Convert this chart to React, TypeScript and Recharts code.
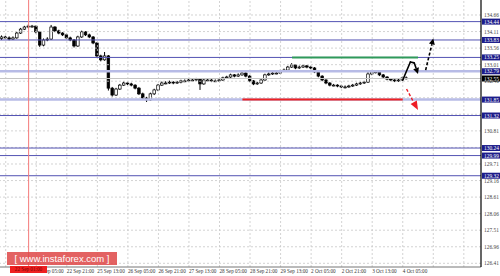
import React from 'react';
import { ComposedChart, Bar, XAxis, YAxis, ReferenceLine } from 'recharts';

// 2-hour candles, price data
const opens = [
  133.88, 133.93, 133.90, 133.86, 133.90, 134.06, 134.19, 134.26, 134.29, 134.29,
  134.10, 133.66, 133.83, 133.86, 134.26, 134.13, 134.06, 134.00, 133.90, 133.83,
  133.63, 133.93, 134.10, 134.00, 133.93, 133.73, 133.30, 133.17, 133.30, 132.23,
  132.00, 132.20, 132.33, 132.40, 132.37, 132.33, 132.23, 132.04, 131.90, 131.84,
  132.04, 132.17, 132.33, 132.40, 132.40, 132.43, 132.40, 132.43, 132.47, 132.47,
  132.50, 132.50, 132.53, 132.37, 132.50, 132.50, 132.47, 132.47, 132.50, 132.57,
  132.60, 132.67, 132.63, 132.67, 132.73, 132.63, 132.47, 132.37, 132.40, 132.50,
  132.67, 132.70, 132.73, 132.73, 132.80, 132.83, 132.93, 133.00, 132.90, 132.93,
  132.97, 132.93, 132.90, 132.77, 132.63, 132.50, 132.40, 132.33, 132.33, 132.30,
  132.27, 132.27, 132.30, 132.33, 132.37, 132.40, 132.43, 132.70, 132.77, 132.77,
  132.67, 132.60, 132.53, 132.50, 132.47, 132.50, 132.57,
];
const highs = [
  133.98, 133.97, 133.95, 133.95, 134.10, 134.23, 134.30, 134.34, 134.33, 134.31,
  134.13, 133.88, 133.92, 134.33, 134.29, 134.17, 134.09, 134.04, 133.94, 133.86,
  133.97, 134.14, 134.12, 134.04, 133.96, 133.76, 133.34, 133.43, 133.33, 132.27,
  132.24, 132.37, 132.45, 132.44, 132.41, 132.36, 132.27, 132.08, 131.94, 132.08,
  132.21, 132.37, 132.45, 132.46, 132.48, 132.46, 132.47, 132.51, 132.52, 132.54,
  132.55, 132.57, 132.55, 132.54, 132.55, 132.53, 132.52, 132.54, 132.61, 132.64,
  132.71, 132.70, 132.72, 132.80, 132.76, 132.66, 132.50, 132.44, 132.53, 132.71,
  132.75, 132.77, 132.78, 132.84, 132.88, 132.97, 133.06, 133.03, 132.98, 133.01,
  133.00, 132.97, 132.93, 132.80, 132.66, 132.53, 132.43, 132.37, 132.36, 132.34,
  132.32, 132.34, 132.37, 132.41, 132.44, 132.47, 132.76, 132.82, 132.81, 132.80,
  132.70, 132.63, 132.56, 132.53, 132.54, 132.61, 132.62,
];
const lows = [
  133.83, 133.86, 133.82, 133.83, 133.87, 134.03, 134.16, 134.22, 134.24, 134.05,
  133.60, 133.62, 133.79, 133.83, 134.09, 134.02, 133.96, 133.86, 133.79, 133.58,
  133.60, 133.90, 133.96, 133.89, 133.69, 133.26, 133.12, 133.14, 132.15, 131.95,
  131.97, 132.17, 132.30, 132.33, 132.29, 132.19, 132.00, 131.86, 131.77, 131.81,
  132.00, 132.13, 132.30, 132.36, 132.37, 132.36, 132.37, 132.39, 132.43, 132.44,
  132.46, 132.47, 132.17, 132.34, 132.46, 132.43, 132.44, 132.44, 132.47, 132.54,
  132.57, 132.59, 132.60, 132.64, 132.59, 132.43, 132.33, 132.34, 132.37, 132.47,
  132.64, 132.67, 132.69, 132.70, 132.77, 132.80, 132.90, 132.86, 132.87, 132.90,
  132.89, 132.86, 132.73, 132.59, 132.46, 132.36, 132.29, 132.29, 132.26, 132.23,
  132.22, 132.24, 132.27, 132.30, 132.34, 132.37, 132.40, 132.66, 132.72, 132.63,
  132.56, 132.49, 132.46, 132.43, 132.44, 132.47, 132.52,
];
const closes = [
  133.93, 133.90, 133.86, 133.90, 134.06, 134.19, 134.26, 134.29, 134.29, 134.10,
  133.66, 133.83, 133.86, 134.26, 134.13, 134.06, 134.00, 133.90, 133.83, 133.63,
  133.93, 134.10, 134.00, 133.93, 133.73, 133.30, 133.17, 133.30, 132.23, 132.00,
  132.20, 132.33, 132.40, 132.37, 132.33, 132.23, 132.04, 131.90, 131.84, 132.04,
  132.17, 132.33, 132.40, 132.40, 132.43, 132.40, 132.43, 132.47, 132.47, 132.50,
  132.50, 132.53, 132.37, 132.50, 132.50, 132.47, 132.47, 132.50, 132.57, 132.60,
  132.67, 132.63, 132.67, 132.73, 132.63, 132.47, 132.37, 132.40, 132.50, 132.67,
  132.70, 132.73, 132.73, 132.80, 132.83, 132.93, 133.00, 132.90, 132.93, 132.97,
  132.93, 132.90, 132.77, 132.63, 132.50, 132.40, 132.33, 132.33, 132.30, 132.27,
  132.27, 132.30, 132.33, 132.37, 132.40, 132.43, 132.70, 132.77, 132.77, 132.67,
  132.60, 132.53, 132.50, 132.47, 132.50, 132.57, 132.55,
];
const totalSlots = 126;

const xTickIdx = [9, 17, 25, 33, 41, 49, 57, 65, 73, 81, 89, 97, 105];
const xTickLabels = [
  '22 Sep 05:00', '22 Sep 21:00', '25 Sep 13:00', '26 Sep 05:00', '26 Sep 21:00',
  '27 Sep 13:00', '28 Sep 05:00', '28 Sep 21:00', '29 Sep 13:00', '2 Oct 05:00',
  '2 Oct 21:00', '3 Oct 13:00', '4 Oct 05:00',
];
const vGridIdx = [1, 9, 17, 25, 33, 41, 49, 57, 65, 73, 81, 89, 97, 105, 113, 121];
const grayTicks = [
  126.41, 126.96, 127.51, 128.06, 128.61, 129.16, 129.71, 130.26,
  130.81, 131.36, 131.91, 132.46, 133.01, 133.56, 134.11, 134.66,
];
// gray labels that the level boxes fully hide in the picture
const hiddenGrayLabels = [130.26, 131.36, 131.91];
const darkLevels = [134.44, 133.83, 133.25, 131.32, 130.24, 129.99, 129.32];
const lightLevels = [132.79, 131.85];
const currentPrice = 132.55;
const crosshairIdx = 7;
const crosshairLabel = '22 Sep 01:00';
const yMin = 126.288;
const yMax = 135.158;

const greenLevel = { from: 76, to: 109, price: 133.25 };
const redLevel = { from: 63, to: 105, price: 131.85 };
const solidPath = [
  { x: 105, y: 132.5 },
  { x: 107, y: 133.1 },
  { x: 108, y: 133.07 },
  { x: 109, y: 132.7 },
];
const dashedUp = [
  { x: 111, y: 132.83 },
  { x: 113, y: 133.88 },
];
const redDown = [
  { x: 106, y: 132.2 },
  { x: 109, y: 131.5 },
];

const rows = Array.from({ length: totalSlots }, (_, i) =>
  i < closes.length
    ? { i, range: [lows[i], highs[i]], o: opens[i], h: highs[i], l: lows[i], c: closes[i] }
    : { i }
);

const FONT = 'Liberation Serif, Times New Roman, serif';
const WM_FONT = 'Liberation Sans, Arial, sans-serif';

const Candle = (p: any) => {
  const { x, y, width, height, payload } = p;
  if (!payload || payload.h == null || typeof y !== 'number') return <g />;
  const top = Math.min(y, y + height);
  const hgt = Math.abs(height);
  const span = payload.h - payload.l;
  const ppu = span > 0 ? hgt / span : 0;
  const yO = top + (payload.h - payload.o) * ppu;
  const yC = top + (payload.h - payload.c) * ppu;
  const cx = x + width / 2;
  const bull = payload.c >= payload.o;
  const bw = 2.6;
  const bTop = Math.min(yO, yC);
  const bH = Math.max(Math.abs(yO - yC), 0.9);
  return (
    <g>
      <line x1={cx} x2={cx} y1={top} y2={top + hgt} stroke="#000" strokeWidth={1} />
      <rect x={cx - bw / 2} y={bTop} width={bw} height={bH} fill={bull ? '#fff' : '#000'} stroke="#000" strokeWidth={0.7} />
    </g>
  );
};

const makeArrow = (color: string, sw: number, dash: string | undefined, headL: number, headW: number) => (p: any) => {
  const { x1, y1, x2, y2 } = p;
  if ([x1, y1, x2, y2].some((v) => typeof v !== 'number' || isNaN(v))) return <g />;
  const ang = Math.atan2(y2 - y1, x2 - x1);
  const cos = Math.cos(ang);
  const sin = Math.sin(ang);
  if (headL <= 0) {
    return <line x1={x1} y1={y1} x2={x2} y2={y2} stroke={color} strokeWidth={sw} strokeDasharray={dash} strokeLinecap="round" />;
  }
  const bx = x2 - headL * cos;
  const by = y2 - headL * sin;
  const pts = [
    `${x2},${y2}`,
    `${bx - headW * sin},${by + headW * cos}`,
    `${bx + headW * sin},${by - headW * cos}`,
  ].join(' ');
  return (
    <g>
      <line x1={x1} y1={y1} x2={bx} y2={by} stroke={color} strokeWidth={sw} strokeDasharray={dash} />
      <polygon points={pts} fill={color} />
    </g>
  );
};

const blackSeg = makeArrow('#000', 1.6, undefined, 0, 0);
const blackHead = makeArrow('#000', 1.6, undefined, 6, 3);
const blackDashHead = makeArrow('#000', 1.6, '3 2', 6, 3);
const redDashHead = makeArrow('#ee1c25', 1.4, '3 2', 9, 3.5);

const XTick = (p: any) => {
  const idx = xTickIdx.indexOf(Number(p.payload?.value));
  if (idx < 0) return <g />;
  return (
    <text x={p.x} y={p.y + 5.5} fontSize={5.2} fill="#333" fontFamily={FONT} textAnchor="start">
      {xTickLabels[idx]}
    </text>
  );
};

const YTick = (p: any) => {
  const v = Number(p.payload?.value);
  const x = p.x;
  const y = p.y;
  const isLevel = darkLevels.includes(v) || lightLevels.includes(v);
  const isCur = v === currentPrice;
  if (isLevel || isCur) {
    return (
      <g>
        <rect x={x - 2} y={y - 3} width={19} height={6} fill={isCur ? '#000' : '#1c1c8a'} />
        <text x={x} y={y + 2} fontSize={5.4} fill="#fff" fontFamily={FONT} textAnchor="start">
          {v.toFixed(2)}
        </text>
      </g>
    );
  }
  if (hiddenGrayLabels.includes(v)) return <g />;
  return (
    <text x={x} y={y + 2} fontSize={5.4} fill="#444" fontFamily={FONT} textAnchor="start">
      {v.toFixed(2)}
    </text>
  );
};

const allYTicks = [...grayTicks, ...lightLevels, ...darkLevels, currentPrice];

export default function App() {
  return (
    <div style={{ position: 'fixed', left: 0, top: 0, width: 500, height: 276, background: '#fff', overflow: 'hidden' }}>
      <ComposedChart width={500} height={276} data={rows} margin={{ top: 0, right: 0, bottom: 0, left: 0 }}>
        <XAxis
          dataKey="i"
          type="category"
          interval={0}
          tickLine={false}
          tickSize={0}
          tickMargin={0}
          height={9}
          axisLine={{ stroke: '#777' }}
          tick={XTick}
        />
        <YAxis
          orientation="right"
          type="number"
          domain={[yMin, yMax]}
          allowDataOverflow
          ticks={allYTicks}
          interval={0}
          width={19}
          tickLine={false}
          tickSize={2}
          tickMargin={1}
          axisLine={{ stroke: '#000', strokeWidth: 1.2 }}
          tick={YTick}
        />
        {grayTicks.map((v) => (
          <ReferenceLine key={'hg' + v} y={v} stroke="#c8c8c8" strokeDasharray="2 2" strokeWidth={0.8} />
        ))}
        {vGridIdx.map((v) => (
          <ReferenceLine
            key={'vg' + v}
            segment={[{ x: v, y: yMin }, { x: v, y: yMax }]}
            stroke="#c8c8c8"
            strokeDasharray="2 2"
            strokeWidth={0.8}
          />
        ))}
        {lightLevels.map((v) => (
          <ReferenceLine key={'ll' + v} y={v} stroke="#b7bbe6" strokeWidth={2.5} />
        ))}
        {darkLevels.map((v) => (
          <ReferenceLine key={'dl' + v} y={v} stroke="#5353b3" strokeWidth={1} />
        ))}
        <ReferenceLine y={currentPrice} stroke="#c4c4c4" strokeWidth={1} />
        <ReferenceLine
          segment={[{ x: crosshairIdx, y: yMin }, { x: crosshairIdx, y: yMax }]}
          stroke="#f47a7a"
          strokeWidth={1}
        />
        <Bar dataKey="range" shape={Candle} barSize={3} isAnimationActive={false} />
        <ReferenceLine
          segment={[{ x: greenLevel.from, y: greenLevel.price }, { x: greenLevel.to, y: greenLevel.price }]}
          stroke="#2f9a5a"
          strokeWidth={2}
        />
        <ReferenceLine
          segment={[{ x: redLevel.from, y: redLevel.price }, { x: redLevel.to, y: redLevel.price }]}
          stroke="#ee2222"
          strokeWidth={2}
        />
        <ReferenceLine segment={[solidPath[0], solidPath[1]]} shape={blackSeg} />
        <ReferenceLine segment={[solidPath[1], solidPath[2]]} shape={blackSeg} />
        <ReferenceLine segment={[solidPath[2], solidPath[3]]} shape={blackHead} />
        <ReferenceLine segment={[dashedUp[0], dashedUp[1]]} shape={blackDashHead} />
        <ReferenceLine segment={[redDown[0], redDown[1]]} shape={redDashHead} />
      </ComposedChart>
      <div
        style={{
          position: 'absolute', left: 10, top: 266, width: 37, height: 6.5,
          background: '#ee2020', color: '#7a0000', fontSize: 5.2, lineHeight: '6.5px',
          fontFamily: FONT, textAlign: 'center', overflow: 'hidden',
        }}
      >
        {crosshairLabel}
      </div>
      <div
        style={{
          position: 'absolute', left: 7, top: 252, width: 110, height: 13,
          background: 'rgba(222, 70, 70, 0.85)', color: '#fff', fontSize: 9.5, lineHeight: '13px',
          fontFamily: WM_FONT, textAlign: 'center', whiteSpace: 'nowrap',
        }}
      >
        [ www.instaforex.com ]
      </div>
    </div>
  );
}
